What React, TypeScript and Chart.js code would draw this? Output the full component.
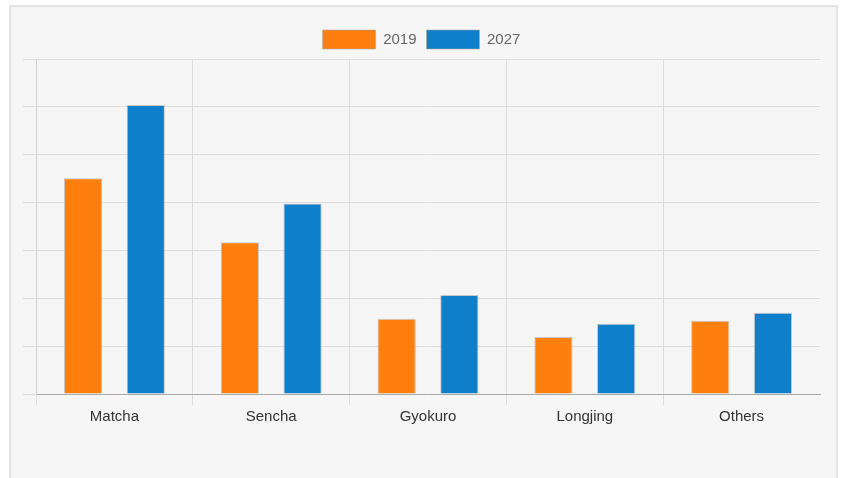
import React, { useEffect, useRef } from "react";
import { Chart, registerables } from "chart.js";

Chart.register(...registerables);

const categories = ["Matcha", "Sencha", "Gyokuro", "Longjing", "Others"];
const series2019 = [4.51, 3.17, 1.57, 1.19, 1.53];
const series2027 = [6.04, 3.98, 2.07, 1.47, 1.70];
const seriesLabels = ["2019", "2027"];

export default function App() {
  const ref = useRef<HTMLCanvasElement | null>(null);

  useEffect(() => {
    if (!ref.current) return;
    const font = { family: "'Liberation Sans', Arial, sans-serif", size: 15 };
    const chart = new Chart(ref.current, {
      type: "bar",
      data: {
        labels: categories,
        datasets: [
          {
            label: seriesLabels[0],
            data: series2019,
            backgroundColor: "#ff7f0e",
            borderColor: "rgba(170,170,170,0.6)",
            borderWidth: 1,
            barPercentage: 0.61,
            categoryPercentage: 0.8,
          },
          {
            label: seriesLabels[1],
            data: series2027,
            backgroundColor: "#0e7fca",
            borderColor: "rgba(170,170,170,0.6)",
            borderWidth: 1,
            barPercentage: 0.61,
            categoryPercentage: 0.8,
          },
        ],
      },
      options: {
        animation: false,
        responsive: false,
        maintainAspectRatio: false,
        layout: { padding: { left: 12, right: 16, top: 13, bottom: 49 } },
        plugins: {
          legend: {
            display: true,
            position: "top",
            labels: {
              boxWidth: 53,
              boxHeight: 19,
              padding: 10,
              color: "#666",
              font,
            },
          },
          tooltip: { enabled: false },
        },
        scales: {
          x: {
            grid: {
              color: (ctx: any) => (ctx.type === "tick" ? "#dedede" : "rgba(0,0,0,0)"),
              tickLength: 11,
              offset: true,
            },
            border: { color: "#aaaaaa", width: 1 },
            ticks: { color: "#333", font, padding: 3 },
          },
          y: {
            min: 0,
            max: 7,
            ticks: { display: false, stepSize: 1 },
            grid: { color: "#dedede", tickLength: 13 },
            border: { color: "#d0d0d0", width: 1 },
          },
        },
      },
    });
    return () => chart.destroy();
  }, []);

  return (
    <div
      style={{
        position: "absolute",
        left: 9,
        top: 5,
        width: 829,
        height: 490,
        border: "2px solid #e3e3e3",
        background: "#f6f6f6",
        boxSizing: "border-box",
      }}
    >
      <canvas ref={ref} width={825} height={471} style={{ display: "block" }} />
    </div>
  );
}
